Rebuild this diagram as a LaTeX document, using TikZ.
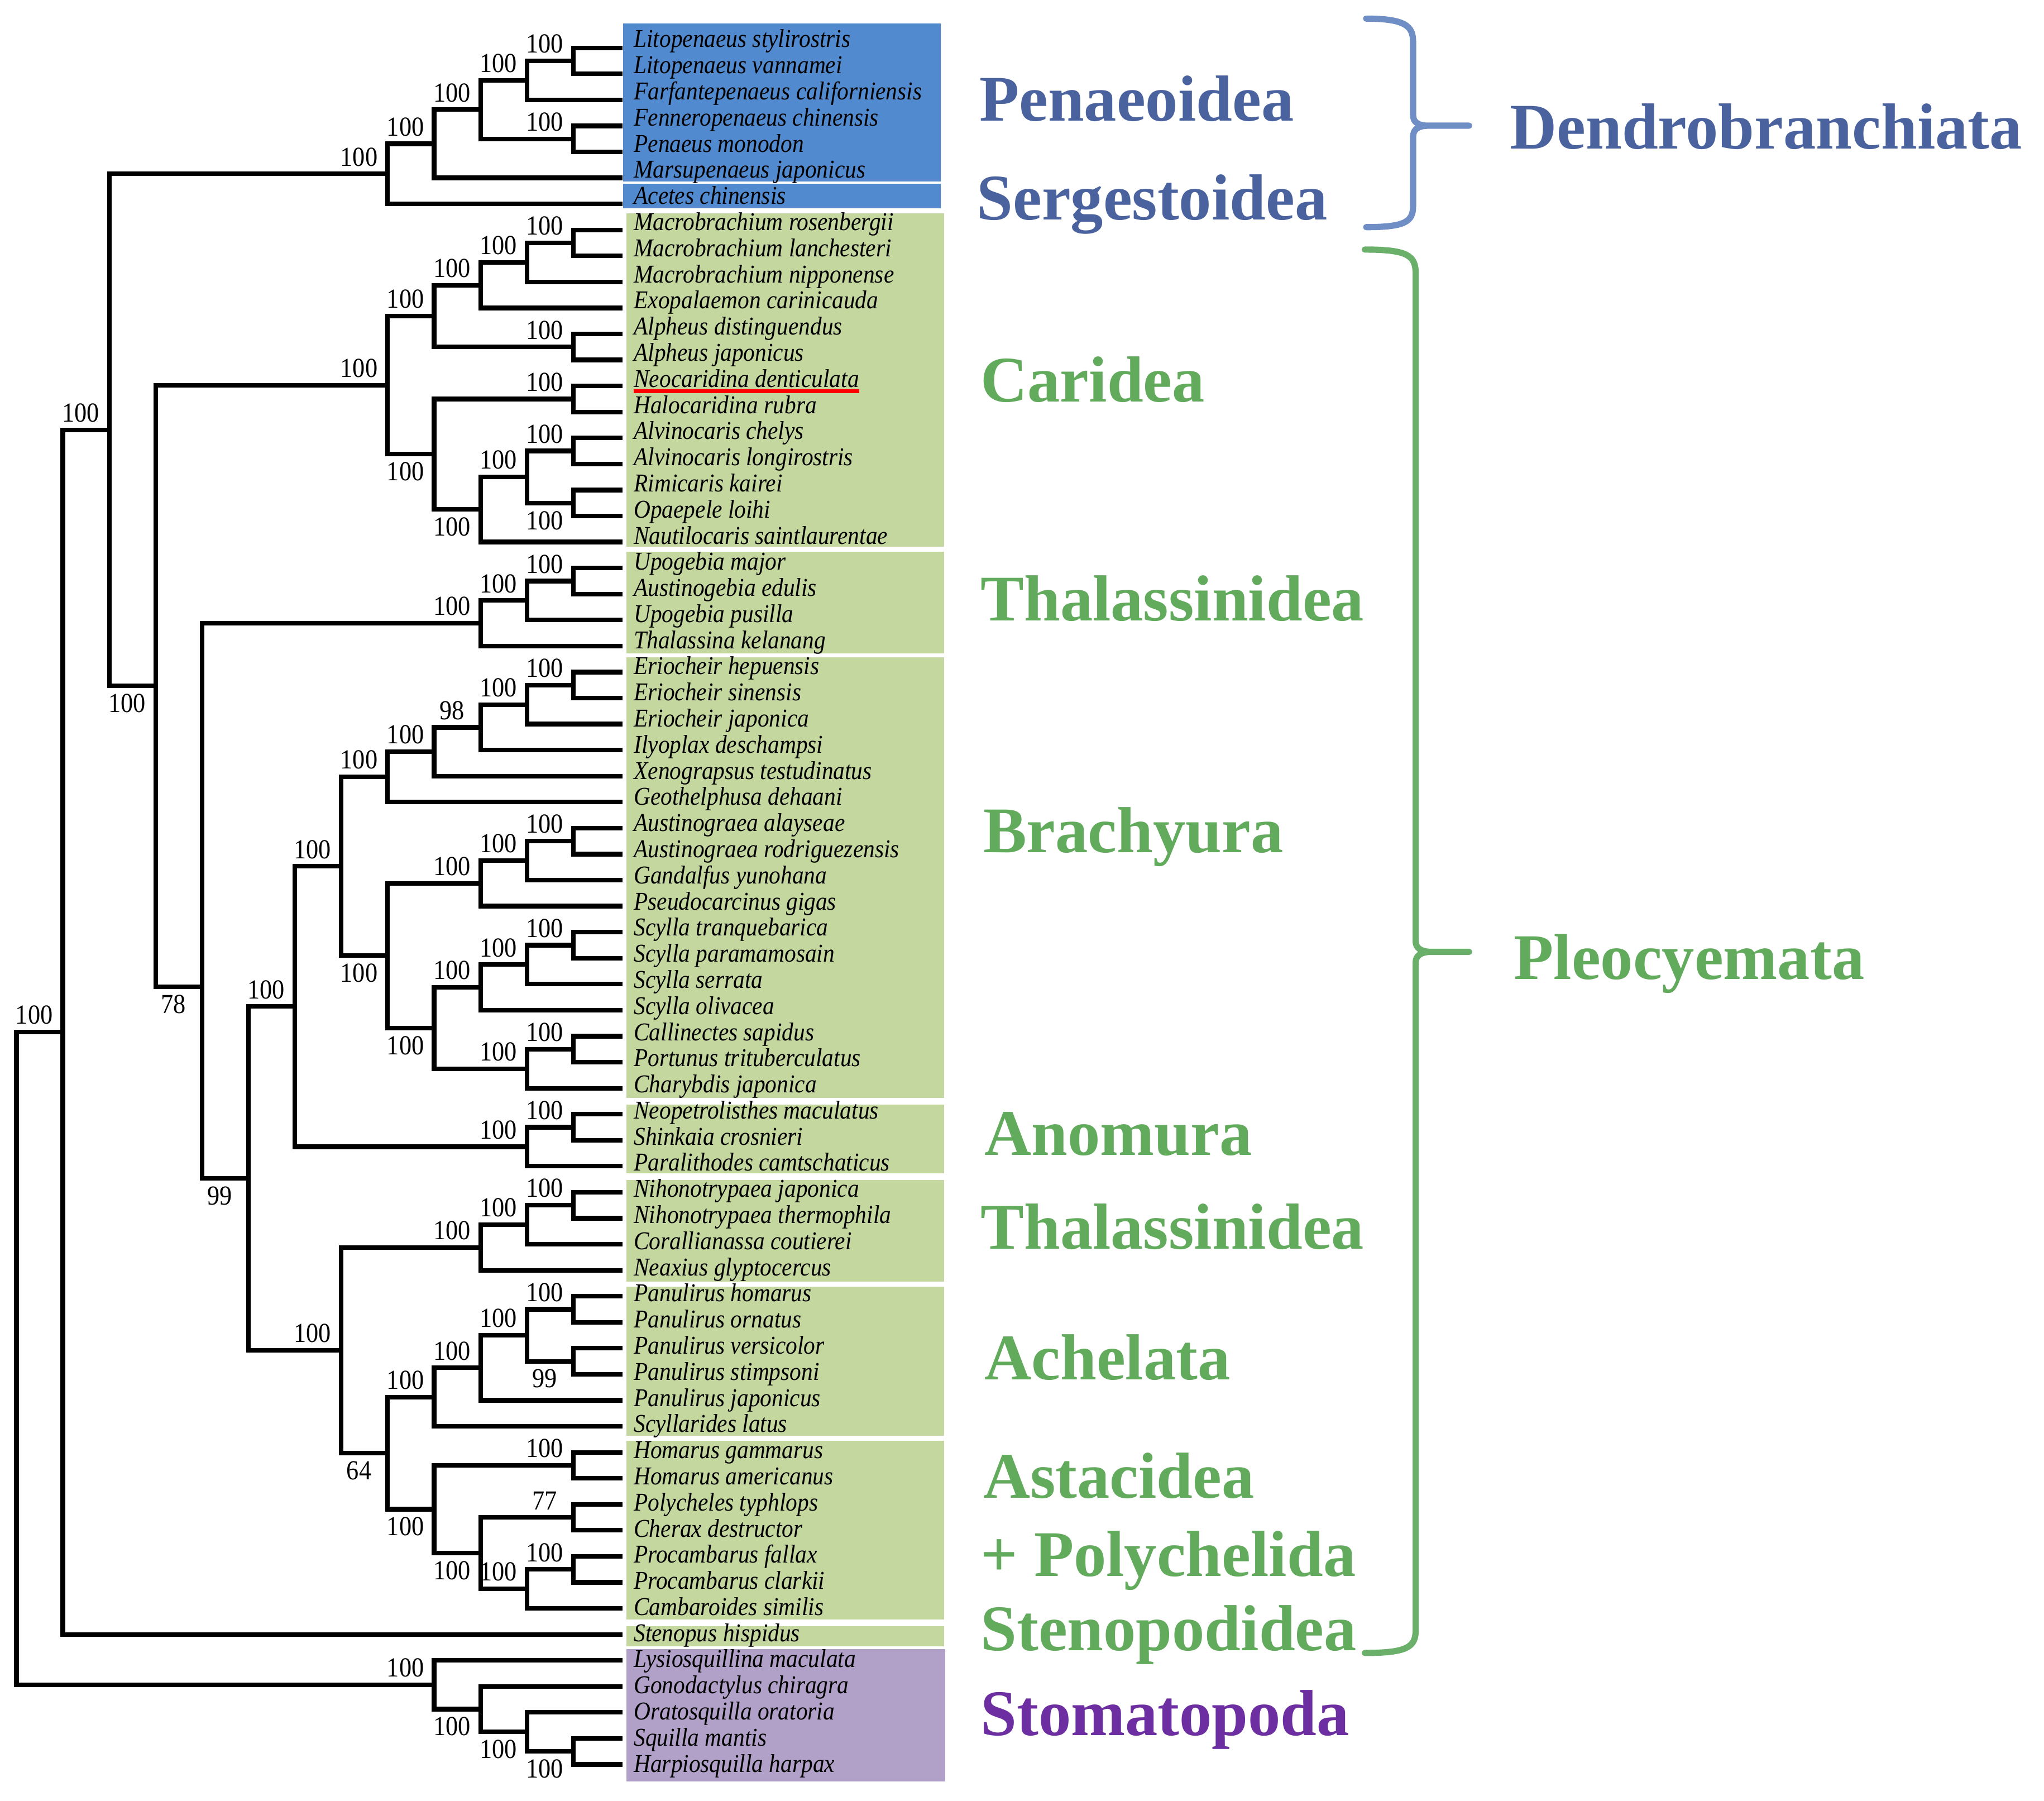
\documentclass[tikz,border=0pt]{standalone}
\usepackage{fontspec}
\setmainfont{Liberation Serif}
\newfontfamily\treefont[FakeStretch=0.9]{Liberation Serif}

\definecolor{dendroblue}{RGB}{74,98,158}
\definecolor{dendrobrace}{RGB}{112,142,198}
\definecolor{pleogreen}{RGB}{98,170,92}
\definecolor{pleobrace}{RGB}{106,176,106}
\definecolor{stomapurple}{RGB}{108,46,160}
\definecolor{boxblue}{RGB}{82,138,208}
\definecolor{boxgreen}{RGB}{196,215,158}
\definecolor{boxpurple}{RGB}{177,160,200}

% level -> x, row -> y (branches), row -> baseline (names)
\newcommand{\lx}[1]{12.6+35.6*#1}
\newcommand{\ry}[1]{36.7+19.947*(#1-1)}
\newcommand{\ty}[1]{36.4+20.04*(#1-1)}

\begin{document}
\begin{tikzpicture}[x=0.025cm,y=-0.025cm,
  branch/.style={line width=2.5pt},
  taxon/.style={anchor=base west,inner sep=0pt,font=\treefont\fontsize{14}{16}\selectfont\itshape},
  bsup/.style={anchor=south,inner sep=0pt,xshift=-0.55cm,yshift=0.14cm,font=\treefont\fontsize{15}{17}\selectfont},
  bsdown/.style={anchor=north,inner sep=0pt,xshift=-0.55cm,yshift=-0.15cm,font=\treefont\fontsize{15}{17}\selectfont},
  group/.style={anchor=base west,inner sep=0pt,font=\fontsize{35.5}{40}\selectfont\bfseries},
  bracket/.style={line width=3.4pt,line cap=round}]
\useasboundingbox (0,0) rectangle (1568,1381);

% Clade shading
\fill[boxblue] (478,17.9) rectangle (721.6,139.2);
\fill[boxblue] (478,141) rectangle (721.6,159.6);
\fill[boxgreen] (480.6,163.5) rectangle (724.3,419.4);
\fill[boxgreen] (480.6,423.3) rectangle (724.3,501);
\fill[boxgreen] (480.6,504) rectangle (724.3,842);
\fill[boxgreen] (480.6,847) rectangle (724.3,900);
\fill[boxgreen] (480.6,905) rectangle (724.3,983);
\fill[boxgreen] (480.6,987) rectangle (724.3,1101);
\fill[boxgreen] (480.6,1105) rectangle (724.3,1242);
\fill[boxgreen] (480.6,1247) rectangle (724.3,1262.7);
\fill[boxpurple] (480.6,1264.8) rectangle (725,1366.3);

% Taxa
\foreach \taxname [count=\i] in {Litopenaeus stylirostris, Litopenaeus vannamei,
  Farfantepenaeus californiensis, Fenneropenaeus chinensis, Penaeus monodon,
  Marsupenaeus japonicus, Acetes chinensis, Macrobrachium rosenbergii,
  Macrobrachium lanchesteri, Macrobrachium nipponense, Exopalaemon carinicauda,
  Alpheus distinguendus, Alpheus japonicus, Neocaridina denticulata,
  Halocaridina rubra, Alvinocaris chelys, Alvinocaris longirostris,
  Rimicaris kairei, Opaepele loihi, Nautilocaris saintlaurentae, Upogebia major,
  Austinogebia edulis, Upogebia pusilla, Thalassina kelanang, Eriocheir hepuensis,
  Eriocheir sinensis, Eriocheir japonica, Ilyoplax deschampsi,
  Xenograpsus testudinatus, Geothelphusa dehaani, Austinograea alayseae,
  Austinograea rodriguezensis, Gandalfus yunohana, Pseudocarcinus gigas,
  Scylla tranquebarica, Scylla paramamosain, Scylla serrata, Scylla olivacea,
  Callinectes sapidus, Portunus trituberculatus, Charybdis japonica,
  Neopetrolisthes maculatus, Shinkaia crosnieri, Paralithodes camtschaticus,
  Nihonotrypaea japonica, Nihonotrypaea thermophila, Corallianassa coutierei,
  Neaxius glyptocercus, Panulirus homarus, Panulirus ornatus, Panulirus versicolor,
  Panulirus stimpsoni, Panulirus japonicus, Scyllarides latus, Homarus gammarus,
  Homarus americanus, Polycheles typhlops, Cherax destructor, Procambarus fallax,
  Procambarus clarkii, Cambaroides similis, Stenopus hispidus,
  Lysiosquillina maculata, Gonodactylus chiragra, Oratosquilla oratoria,
  Squilla mantis, Harpiosquilla harpax}
{
  \coordinate (tip\i) at (477.5,{\ry{\i}});
  \node[taxon] (sp\i) at (486,{\ty{\i}}) {\taxname};
}
\draw[red,line width=2.1pt] ([yshift=-0.08cm]sp14.base west) -- ([yshift=-0.08cm]sp14.base east);

% Dendrobranchiata
\coordinate (d1) at ({\lx{12}},{\ry{1.5}});
\coordinate (d2) at ({\lx{11}},{\ry{2.25}});
\coordinate (d3) at ({\lx{12}},{\ry{4.5}});
\coordinate (d4) at ({\lx{10}},{\ry{3.375}});
\coordinate (d5) at ({\lx{9}},{\ry{4.6875}});
\coordinate (d6) at ({\lx{8}},{\ry{5.844}});
% Caridea
\coordinate (c1) at ({\lx{12}},{\ry{8.5}});
\coordinate (c2) at ({\lx{11}},{\ry{9.25}});
\coordinate (c3) at ({\lx{10}},{\ry{10.125}});
\coordinate (c4) at ({\lx{12}},{\ry{12.5}});
\coordinate (c5) at ({\lx{9}},{\ry{11.3125}});
\coordinate (c6) at ({\lx{12}},{\ry{14.5}});
\coordinate (c7) at ({\lx{12}},{\ry{16.5}});
\coordinate (c8) at ({\lx{12}},{\ry{18.5}});
\coordinate (c9) at ({\lx{11}},{\ry{17.5}});
\coordinate (c10) at ({\lx{10}},{\ry{18.75}});
\coordinate (c11) at ({\lx{9}},{\ry{16.625}});
\coordinate (c12) at ({\lx{8}},{\ry{13.969}});
% Thalassinidea (Upogebia)
\coordinate (g1) at ({\lx{12}},{\ry{21.5}});
\coordinate (g2) at ({\lx{11}},{\ry{22.25}});
\coordinate (g3) at ({\lx{10}},{\ry{23.125}});
% Brachyura
\coordinate (b1) at ({\lx{12}},{\ry{25.5}});
\coordinate (b2) at ({\lx{11}},{\ry{26.25}});
\coordinate (b3) at ({\lx{10}},{\ry{27.125}});
\coordinate (b4) at ({\lx{9}},{\ry{28.0625}});
\coordinate (b5) at ({\lx{8}},{\ry{29.031}});
\coordinate (b6) at ({\lx{12}},{\ry{31.5}});
\coordinate (b7) at ({\lx{11}},{\ry{32.25}});
\coordinate (b8) at ({\lx{10}},{\ry{33.125}});
\coordinate (b9) at ({\lx{12}},{\ry{35.5}});
\coordinate (b10) at ({\lx{11}},{\ry{36.25}});
\coordinate (b11) at ({\lx{10}},{\ry{37.125}});
\coordinate (b12) at ({\lx{12}},{\ry{39.5}});
\coordinate (b13) at ({\lx{11}},{\ry{40.25}});
\coordinate (b14) at ({\lx{9}},{\ry{38.6875}});
\coordinate (b15) at ({\lx{8}},{\ry{35.906}});
\coordinate (b16) at ({\lx{7}},{\ry{32.469}});
% Anomura
\coordinate (a1) at ({\lx{12}},{\ry{42.5}});
\coordinate (a2) at ({\lx{11}},{\ry{43.25}});
% Thalassinidea (Callianassidae)
\coordinate (k1) at ({\lx{12}},{\ry{45.5}});
\coordinate (k2) at ({\lx{11}},{\ry{46.25}});
\coordinate (k3) at ({\lx{10}},{\ry{47.125}});
% Achelata
\coordinate (p1) at ({\lx{12}},{\ry{49.5}});
\coordinate (p2) at ({\lx{12}},{\ry{51.5}});
\coordinate (p3) at ({\lx{11}},{\ry{50.5}});
\coordinate (p4) at ({\lx{10}},{\ry{51.75}});
\coordinate (p5) at ({\lx{9}},{\ry{52.875}});
% Astacidea + Polychelida
\coordinate (h1) at ({\lx{12}},{\ry{55.5}});
\coordinate (h2) at ({\lx{12}},{\ry{57.5}});
\coordinate (h3) at ({\lx{12}},{\ry{59.5}});
\coordinate (h4) at ({\lx{11}},{\ry{60.25}});
\coordinate (h5) at ({\lx{10}},{\ry{58.875}});
\coordinate (h6) at ({\lx{9}},{\ry{57.1875}});
% Stomatopoda
\coordinate (m1) at ({\lx{12}},{\ry{66.5}});
\coordinate (m2) at ({\lx{11}},{\ry{65.75}});
\coordinate (m3) at ({\lx{10}},{\ry{64.875}});
\coordinate (m4) at ({\lx{9}},{\ry{63.94}});
% Backbone
\coordinate (n8) at ({\lx{8}},{\ry{55.031}});
\coordinate (n7) at ({\lx{7}},{\ry{51.078}});
\coordinate (n6) at ({\lx{6}},{\ry{37.859}});
\coordinate (n5) at ({\lx{5}},{\ry{44.469}});
\coordinate (n4) at ({\lx{4}},{\ry{37.1}});
\coordinate (n3) at ({\lx{3}},{\ry{25.53}});
\coordinate (n2) at ({\lx{2}},{\ry{15.69}});
\coordinate (n1) at ({\lx{1}},{\ry{38.84}});
\coordinate (root) at ({\lx{0}},{\ry{51.39}});

% Branches
\draw[branch] (tip1) -| (d1) |- (tip2);
\draw[branch] (d1) -| (d2) |- (tip3);
\draw[branch] (tip4) -| (d3) |- (tip5);
\draw[branch] (d2) -| (d4) |- (d3);
\draw[branch] (d4) -| (d5) |- (tip6);
\draw[branch] (d5) -| (d6) |- (tip7);
\draw[branch] (tip8) -| (c1) |- (tip9);
\draw[branch] (c1) -| (c2) |- (tip10);
\draw[branch] (c2) -| (c3) |- (tip11);
\draw[branch] (tip12) -| (c4) |- (tip13);
\draw[branch] (c3) -| (c5) |- (c4);
\draw[branch] (tip14) -| (c6) |- (tip15);
\draw[branch] (tip16) -| (c7) |- (tip17);
\draw[branch] (tip18) -| (c8) |- (tip19);
\draw[branch] (c7) -| (c9) |- (c8);
\draw[branch] (c9) -| (c10) |- (tip20);
\draw[branch] (c6) -| (c11) |- (c10);
\draw[branch] (c5) -| (c12) |- (c11);
\draw[branch] (tip21) -| (g1) |- (tip22);
\draw[branch] (g1) -| (g2) |- (tip23);
\draw[branch] (g2) -| (g3) |- (tip24);
\draw[branch] (tip25) -| (b1) |- (tip26);
\draw[branch] (b1) -| (b2) |- (tip27);
\draw[branch] (b2) -| (b3) |- (tip28);
\draw[branch] (b3) -| (b4) |- (tip29);
\draw[branch] (b4) -| (b5) |- (tip30);
\draw[branch] (tip31) -| (b6) |- (tip32);
\draw[branch] (b6) -| (b7) |- (tip33);
\draw[branch] (b7) -| (b8) |- (tip34);
\draw[branch] (tip35) -| (b9) |- (tip36);
\draw[branch] (b9) -| (b10) |- (tip37);
\draw[branch] (b10) -| (b11) |- (tip38);
\draw[branch] (tip39) -| (b12) |- (tip40);
\draw[branch] (b12) -| (b13) |- (tip41);
\draw[branch] (b11) -| (b14) |- (b13);
\draw[branch] (b8) -| (b15) |- (b14);
\draw[branch] (b5) -| (b16) |- (b15);
\draw[branch] (tip42) -| (a1) |- (tip43);
\draw[branch] (a1) -| (a2) |- (tip44);
\draw[branch] (b16) -| (n6) |- (a2);
\draw[branch] (tip45) -| (k1) |- (tip46);
\draw[branch] (k1) -| (k2) |- (tip47);
\draw[branch] (k2) -| (k3) |- (tip48);
\draw[branch] (tip49) -| (p1) |- (tip50);
\draw[branch] (tip51) -| (p2) |- (tip52);
\draw[branch] (p1) -| (p3) |- (p2);
\draw[branch] (p3) -| (p4) |- (tip53);
\draw[branch] (p4) -| (p5) |- (tip54);
\draw[branch] (tip55) -| (h1) |- (tip56);
\draw[branch] (tip57) -| (h2) |- (tip58);
\draw[branch] (tip59) -| (h3) |- (tip60);
\draw[branch] (h3) -| (h4) |- (tip61);
\draw[branch] (h2) -| (h5) |- (h4);
\draw[branch] (h1) -| (h6) |- (h5);
\draw[branch] (p5) -| (n8) |- (h6);
\draw[branch] (k3) -| (n7) |- (n8);
\draw[branch] (n6) -| (n5) |- (n7);
\draw[branch] (g3) -| (n4) |- (n5);
\draw[branch] (c12) -| (n3) |- (n4);
\draw[branch] (d6) -| (n2) |- (n3);
\draw[branch] (n2) -| (n1) |- (tip62);
\draw[branch] (tip66) -| (m1) |- (tip67);
\draw[branch] (tip65) -| (m2) |- (m1);
\draw[branch] (tip64) -| (m3) |- (m2);
\draw[branch] (tip63) -| (m4) |- (m3);
\draw[branch] (n1) -| (root) |- (m4);

% Bootstrap values
\foreach \n in {d1,d2,d3,d4,d5,d6,c1,c2,c3,c4,c5,c6,c7,c9,c12,g1,g2,g3,
  b1,b2,b4,b5,b6,b7,b8,b9,b10,b11,b12,b13,b16,a1,a2,n6,k1,k2,k3,
  p1,p3,p4,p5,h1,h3,h4,n7,n2,n1,m4}
  \node[bsup] (bs\n) at (\n) {100};
\foreach \n in {c8,c10,c11,b14,b15,h5,h6,n3,m1,m2,m3}
  \node[bsdown] (bs\n) at (\n) {100};
\node[bsup] (bsb3) at (b3) {98};
\node[bsup] (bsh2) at (h2) {77};
\node[bsdown] (bsp2) at (p2) {99};
\node[bsdown] (bsn8) at (n8) {64};
\node[bsdown] (bsn5) at (n5) {99};
\node[bsdown] (bsn4) at (n4) {78};

% Group labels
\node[group,dendroblue] (penae) at (751,92.8) {Penaeoidea};
\node[group,dendroblue] (serge) at (749,168.4) {Sergestoidea};
\node[group,dendroblue] (dendro) at (1158,114.2) {Dendrobranchiata};
\node[group,pleogreen] (carid) at (752,308) {Caridea};
\node[group,pleogreen] (thal1) at (752,476) {Thalassinidea};
\node[group,pleogreen] (brach) at (754,654) {Brachyura};
\node[group,pleogreen] (pleo) at (1161,751) {Pleocyemata};
\node[group,pleogreen] (anom) at (755,886) {Anomura};
\node[group,pleogreen] (thal2) at (752,958) {Thalassinidea};
\node[group,pleogreen] (achel) at (755,1058) {Achelata};
\node[group,pleogreen] (astac) at (754,1149) {Astacidea};
\node[group,pleogreen] (polych) at (752,1209) {+ Polychelida};
\node[group,pleogreen] (steno) at (752,1266) {Stenopodidea};
\node[group,stomapurple] (stoma) at (752,1331) {Stomatopoda};

% Braces
\draw[bracket,dendrobrace] (1048,14.3) .. controls (1078,14.3) and (1084,20) .. (1084,32)
  -- (1084,88) .. controls (1084,94) and (1088,96.4) .. (1096,96.4) -- (1127,96.4)
  (1096,96.4) .. controls (1088,96.4) and (1084,99) .. (1084,105)
  -- (1084,158) .. controls (1084,170) and (1078,174.2) .. (1048,174.2);
\draw[bracket,pleobrace] (1047,191.4) .. controls (1080,191.4) and (1086,196) .. (1086,210)
  -- (1086,722) .. controls (1086,727) and (1090,730) .. (1098,730) -- (1127,730)
  (1098,730) .. controls (1090,730) and (1086,733) .. (1086,738)
  -- (1086,1250) .. controls (1086,1263) and (1080,1267.7) .. (1047,1267.7);

\end{tikzpicture}
\end{document}
